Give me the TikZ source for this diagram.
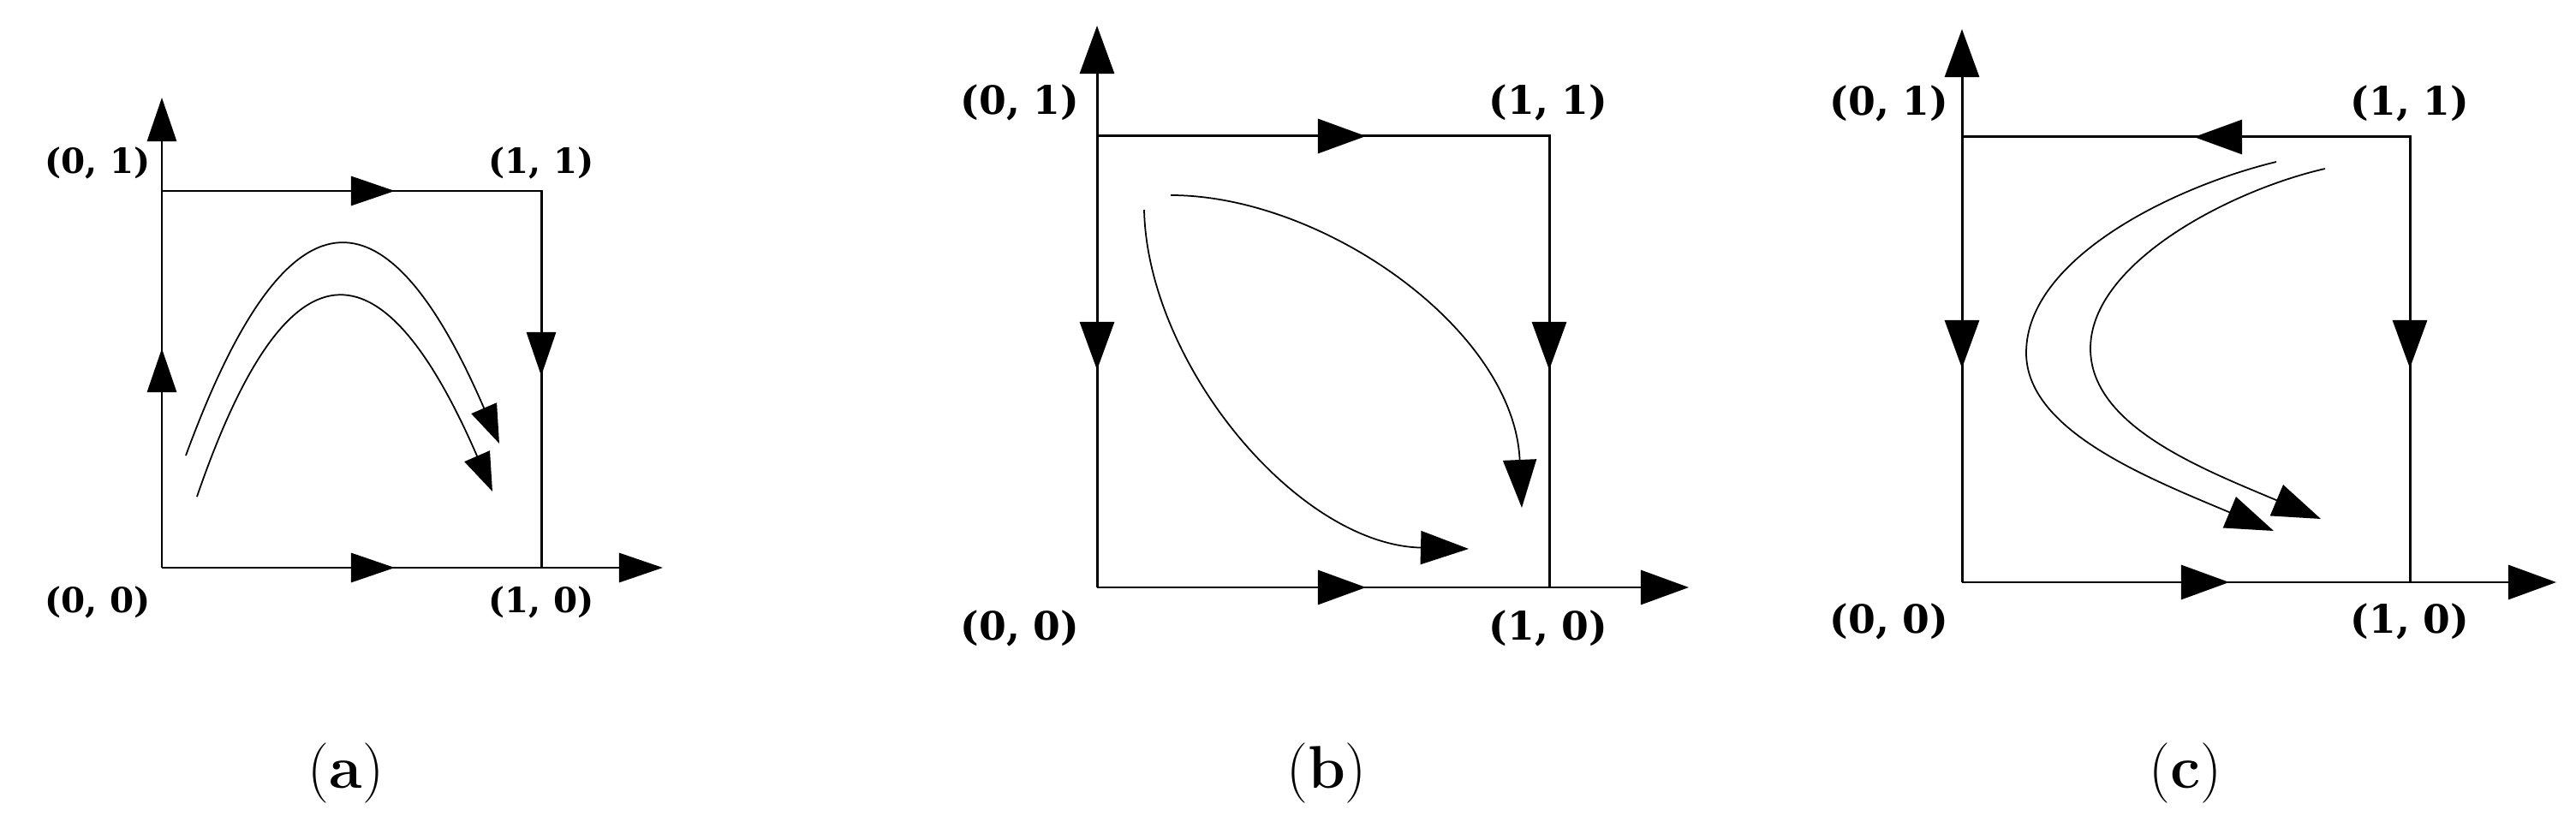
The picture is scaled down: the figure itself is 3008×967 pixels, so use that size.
\documentclass[tikz,border=0pt]{standalone}
\usepackage{fontspec}
\newfontfamily\labfont{DejaVu Serif}
\usetikzlibrary{arrows.meta}
\begin{document}
\begin{tikzpicture}[x=0.01cm,y=-0.01cm,
  box/.style={line width=0.85pt},
  curve/.style={line width=0.5pt},
  labA/.style={font=\labfont\bfseries\fontsize{11.5}{13}\selectfont, inner sep=0pt},
  labB/.style={font=\labfont\bfseries\fontsize{13}{15}\selectfont, inner sep=0pt},
  captext/.style={font=\fontsize{20}{23}\selectfont, inner sep=0pt},
  tipA/.style={-{Triangle[length=0.51cm,width=0.34cm]}},
  tipB/.style={-{Triangle[length=0.56cm,width=0.40cm]}},
  tipCa/.style={-{Triangle[length=0.45cm,width=0.32cm]}},
  tipCb/.style={-{Triangle[length=0.56cm,width=0.39cm]}},
]
\fill[white] (0,0) rectangle (3008,967);
\useasboundingbox (0,0) rectangle (3008,967);

% ---------------- panel (a)
\coordinate (aO) at (189,663);
\coordinate (aX) at (632,663);
\coordinate (aY) at (189,223);
\coordinate (aZ) at (632,223);
\coordinate (aYt) at (189,114);
\coordinate (aXt) at (774,663);
\coordinate (aTm) at (461,223);
\coordinate (aBm) at (461,663);
\coordinate (aLm) at (189,407);
\coordinate (aRm) at (632,439);
\draw[box] (aY) -- (aZ) -- (aX);
\draw[box,tipA] (aO) -- (aYt);
\draw[box,tipA] (aO) -- (aXt);
\draw[box,tipA] (aY) -- (aTm);
\draw[box,tipA] (aO) -- (aBm);
\draw[box,tipA] (aO) -- (aLm);
\draw[box,tipA] (aZ) -- (aRm);
\node[labA] (aL01) at (114,190) {(0, 1)};
\node[labA] (aL11) at (632,190) {(1, 1)};
\node[labA] (aL00) at (114,703) {(0, 0)};
\node[labA] (aL10) at (632,703) {(1, 0)};
\draw[curve,tipCa] (217,532) .. controls (335,210) and (450,210) .. (583,518);
\draw[curve,tipCa] (230,580) .. controls (335,274) and (445,274) .. (575,574);
\node[captext] (capa) at (404,903) {(\textbf{a})};

% ---------------- panel (b)
\coordinate (bO) at (1281,686);
\coordinate (bX) at (1809,686);
\coordinate (bY) at (1281,159);
\coordinate (bZ) at (1809,159);
\coordinate (bYt) at (1281,30);
\coordinate (bXt) at (1972,686);
\coordinate (bTm) at (1595,159);
\coordinate (bBm) at (1595,686);
\coordinate (bLm) at (1281,432);
\coordinate (bRm) at (1809,432);
\draw[box] (bY) -- (bZ) -- (bX);
\draw[box,tipB] (bO) -- (bYt);
\draw[box,tipB] (bO) -- (bXt);
\draw[box,tipB] (bY) -- (bTm);
\draw[box,tipB] (bO) -- (bBm);
\draw[box,tipB] (bY) -- (bLm);
\draw[box,tipB] (bZ) -- (bRm);
\node[labB] (bL01) at (1191,120) {(0, 1)};
\node[labB] (bL11) at (1808,120) {(1, 1)};
\node[labB] (bL00) at (1191,734) {(0, 0)};
\node[labB] (bL10) at (1808,734) {(1, 0)};
\draw[curve,tipCb] (1367,228) .. controls (1545,228) and (1768,385) .. (1777,593);
\draw[curve,tipCb] (1336,245) .. controls (1340,425) and (1515,636) .. (1715,641);
\node[captext] (capb) at (1549,903) {(\textbf{b})};

% ---------------- panel (c)
\coordinate (cO) at (2291,680);
\coordinate (cX) at (2814,680);
\coordinate (cY) at (2291,160);
\coordinate (cZ) at (2814,160);
\coordinate (cYt) at (2291,34);
\coordinate (cXt) at (2985,680);
\coordinate (cTm) at (2562,160);
\coordinate (cBm) at (2603,680);
\coordinate (cLm) at (2291,430);
\coordinate (cRm) at (2814,430);
\draw[box] (cY) -- (cZ) -- (cX);
\draw[box,tipB] (cO) -- (cYt);
\draw[box,tipB] (cO) -- (cXt);
\draw[box,tipB] (cZ) -- (cTm);
\draw[box,tipB] (cO) -- (cBm);
\draw[box,tipB] (cY) -- (cLm);
\draw[box,tipB] (cZ) -- (cRm);
\node[labB] (cL01) at (2206,121) {(0, 1)};
\node[labB] (cL11) at (2814,121) {(1, 1)};
\node[labB] (cL00) at (2206,726) {(0, 0)};
\node[labB] (cL10) at (2814,726) {(1, 0)};
\draw[curve,tipCb] (2658,189) .. controls (2538,218) and (2366,302) .. (2366,412)
                             .. controls (2366,502) and (2505,557) .. (2655,620);
\draw[curve,tipCb] (2715,197) .. controls (2605,222) and (2441,307) .. (2441,407)
                             .. controls (2441,497) and (2570,547) .. (2710,606);
\node[captext] (capc) at (2552,903) {(\textbf{c})};
\end{tikzpicture}
\end{document}
